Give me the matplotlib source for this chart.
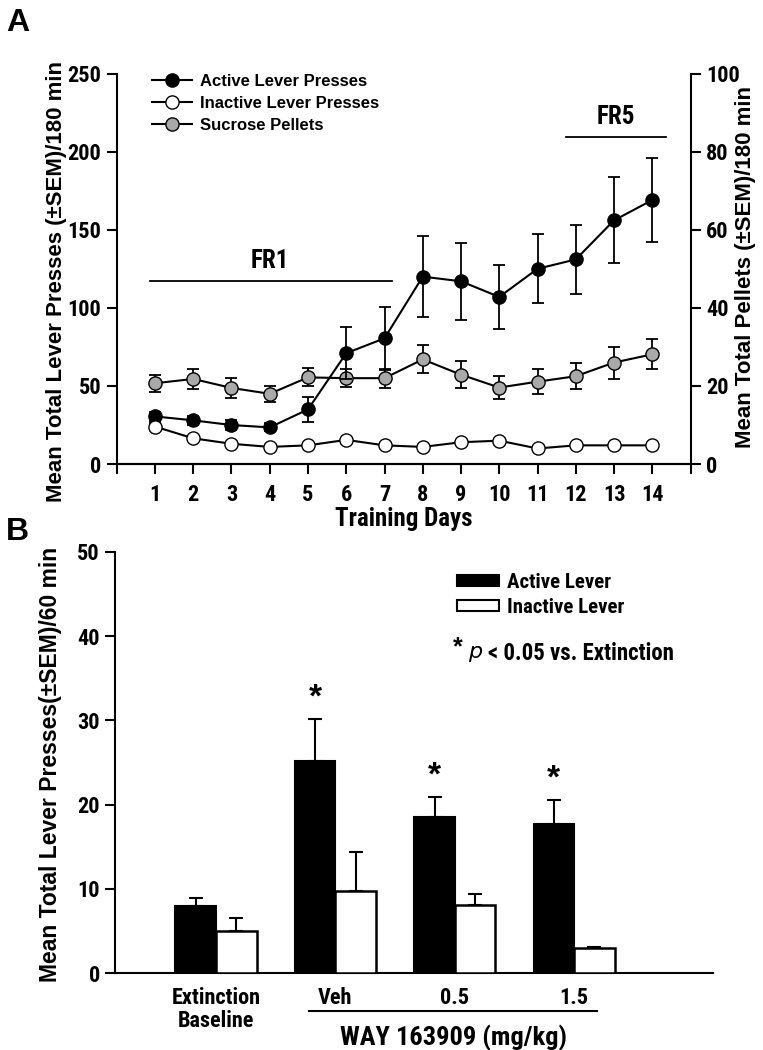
import matplotlib
matplotlib.use("Agg")
import matplotlib.pyplot as plt
import matplotlib.transforms as mtransforms
from matplotlib import font_manager as fm
from matplotlib.lines import Line2D
from matplotlib.patches import Patch
import numpy as np

plt.rcParams['font.family'] = ['Liberation Sans', 'DejaVu Sans']
WIDE = ['Liberation Sans', 'DejaVu Sans']

# pick a narrow bold face for the tick labels if one is installed
_fonts = fm.fontManager.ttflist
_names = {f.name for f in _fonts}
if 'Liberation Sans Narrow' in _names:
    NFONT = dict(family='Liberation Sans Narrow', fontstretch='normal')
elif 'Roboto Condensed' in _names:
    NFONT = dict(family='Roboto Condensed', fontstretch='normal')
elif any(f.name == 'DejaVu Sans' and f.stretch == 'condensed' for f in _fonts):
    NFONT = dict(family='DejaVu Sans', fontstretch='condensed')
else:
    NFONT = dict(family='Liberation Sans', fontstretch='normal')
NFONT['fontweight'] = 'bold'

# ---- panel A data ----
days = list(range(1, 15))
active = [30.5, 28, 25, 23.5, 35, 71, 80.5, 120, 117, 107, 125, 131, 156, 169]
active_sem = [3, 3, 3, 2.5, 8, 16.5, 20, 26, 24.5, 20.5, 22, 22, 27.5, 27]
inactive = [24, 16.5, 13, 11, 12, 15.5, 12, 11, 14, 15, 10, 12, 12, 12]
inactive_sem = [2, 1, 1, 1, 1, 1, 1, 1, 1, 1, 1, 1, 1, 1]
pellets = [20.7, 21.8, 19.5, 18, 22.2, 22, 22, 26.8, 22.9, 19.6, 21.1, 22.5, 26, 28.1]
pellets_sem = [2.2, 2.5, 2.5, 2.1, 2.3, 2.3, 2.4, 3.6, 3.4, 2.9, 3.2, 3.4, 4.1, 3.8]

phase_names = ['FR1', 'FR5']
phase_start = [0.88, 11.75]
phase_end = [7.2, 14.35]
phase_line_y = [117, 209.5]
phase_label_x = [4.0, 13.05]

# ---- panel B data ----
groups = ['Extinction\nBaseline', 'Veh', '0.5', '1.5']
active_b = [8.0, 25.2, 18.5, 17.7]
active_b_sem = [0.9, 5.0, 2.4, 2.9]
inactive_b = [5.0, 9.8, 8.1, 3.0]
inactive_b_sem = [1.5, 4.6, 1.3, 0.1]
signif = [False, True, True, True]

fig = plt.figure(figsize=(7.63, 10.5), dpi=100)

# ================= Panel A =================
axA = fig.add_axes([0.153, 0.558, 0.752, 0.372])
axR = axA.twinx()

lw = 1.5
ms = 9.5
cap = 4.5

axA.errorbar(days, active, yerr=active_sem, fmt='-o', color='black', mfc='black',
             mec='black', ms=ms, lw=lw, capsize=cap, elinewidth=1.3, capthick=1.3,
             zorder=5)
axA.errorbar(days, inactive, yerr=inactive_sem, fmt='-o', color='black', mfc='white',
             mec='black', ms=ms, lw=lw, capsize=cap, elinewidth=1.3, capthick=1.3,
             zorder=5)
axR.errorbar(days, pellets, yerr=pellets_sem, fmt='-o', color='black', mfc='#a9a9a9',
             mec='black', ms=ms, lw=lw, capsize=cap, elinewidth=1.3, capthick=1.3,
             zorder=4)

axA.set_xlim(0, 15)
axA.set_ylim(0, 250)
axR.set_ylim(0, 100)
axA.set_xticks(range(0, 16))
axA.set_xticklabels([''] + [str(d) for d in days] + [''], fontsize=16, **NFONT)
axA.set_yticks(range(0, 251, 50))
axA.set_yticklabels([str(v) for v in range(0, 251, 50)], fontsize=16, **NFONT)
axR.set_yticks(range(0, 101, 20))
axR.set_yticklabels([str(v) for v in range(0, 101, 20)], fontsize=16, **NFONT)

for ax in (axA, axR):
    ax.spines['top'].set_visible(False)
    for s in ('left', 'right', 'bottom'):
        ax.spines[s].set_linewidth(1.5)
    ax.tick_params(direction='out', length=7, width=1.5, pad=4)
axA.tick_params(axis='x', pad=7)
axR.spines['left'].set_visible(False)
axA.spines['right'].set_visible(False)

axA.set_xlabel('Training Days', fontsize=18, labelpad=1, **NFONT)
axA.set_ylabel('Mean Total Lever Presses (\u00b1SEM)/180 min', fontweight='bold',
               fontsize=16)
axA.yaxis.set_label_coords(-0.087, 0.467)
axR.set_ylabel('Mean Total Pellets (\u00b1SEM)/180 min', fontweight='bold',
               fontsize=16)
axR.yaxis.set_label_coords(1.078, 0.505)

for name, x0, x1, yl, xt in zip(phase_names, phase_start, phase_end, phase_line_y,
                                phase_label_x):
    axA.plot([x0, x1], [yl, yl], color='black', lw=1.3, clip_on=False)
    axA.text(xt, yl + 5, name, fontsize=18, ha='center', va='bottom', **NFONT)

handlesA = [
    Line2D([], [], color='black', lw=lw, marker='o', mfc='black', mec='black', ms=ms),
    Line2D([], [], color='black', lw=lw, marker='o', mfc='white', mec='black', ms=ms),
    Line2D([], [], color='black', lw=lw, marker='o', mfc='#a9a9a9', mec='black', ms=ms),
]
legA = axA.legend(handlesA, ['Active Lever Presses', 'Inactive Lever Presses',
                             'Sucrose Pellets'],
                  loc='upper left', bbox_to_anchor=(0.05, 1.015), frameon=False,
                  handlelength=2.4, handletextpad=0.45, labelspacing=0.42,
                  borderaxespad=0.0, prop={'family': WIDE, 'weight': 'bold',
                                           'size': 12})
axA.set_zorder(axR.get_zorder() + 1)
axA.patch.set_visible(False)

fig.text(0.008, 0.992, 'A', fontsize=23, fontweight='bold', va='top', ha='left')

# ================= Panel B =================
axB = fig.add_axes([0.151, 0.0733, 0.783, 0.401])
x = np.arange(len(groups))
bw = 0.34
axB.bar(x - bw / 2, active_b, width=bw, color='black', edgecolor='black',
        linewidth=1.5, yerr=[np.zeros(len(x)), active_b_sem],
        error_kw=dict(ecolor='black', elinewidth=1.5, capsize=5, capthick=1.5),
        label='Active Lever', zorder=3)
axB.bar(x + bw / 2, inactive_b, width=bw, color='white', edgecolor='black',
        linewidth=1.8, yerr=[np.zeros(len(x)), inactive_b_sem],
        error_kw=dict(ecolor='black', elinewidth=1.5, capsize=5, capthick=1.5),
        label='Inactive Lever', zorder=3)

for xi, a, s, sig in zip(x, active_b, active_b_sem, signif):
    if sig:
        axB.text(xi - bw / 2, a + s + 0.6, '*', fontsize=24, fontweight='bold',
                 ha='center', va='bottom')

axB.set_xlim(-0.845, 4.16)
axB.set_ylim(0, 50)
axB.set_yticks(range(0, 51, 10))
axB.set_yticklabels([str(v) for v in range(0, 51, 10)], fontsize=16, **NFONT)
axB.set_xticks(x)
axB.set_xticklabels(groups, fontsize=16, va='top', linespacing=1.05, **NFONT)
axB.tick_params(axis='x', length=0, pad=10)
axB.tick_params(axis='y', direction='out', length=7, width=1.5, pad=4)
axB.spines['top'].set_visible(False)
axB.spines['right'].set_visible(False)
axB.spines['left'].set_linewidth(1.5)
axB.spines['bottom'].set_linewidth(1.5)
axB.set_ylabel('Mean Total Lever Presses(\u00b1SEM)/60 min', fontweight='bold',
               fontsize=16.5)
axB.yaxis.set_label_coords(-0.089, 0.495)

trans = mtransforms.blended_transform_factory(axB.transData, axB.transAxes)
axB.plot([0.78, 3.19], [-0.09, -0.09], color='black', lw=1.5, transform=trans,
         clip_on=False)
axB.text(1.99, -0.155, 'WAY 163909 (mg/kg)', transform=trans, ha='center',
         va='center', fontsize=19, **NFONT)

handlesB = [Patch(facecolor='black', edgecolor='black', lw=1.5),
            Patch(facecolor='white', edgecolor='black', lw=1.5)]
axB.legend(handlesB, ['Active Lever', 'Inactive Lever'], loc='upper left',
           bbox_to_anchor=(0.558, 0.97), frameon=False, handlelength=2.0,
           handleheight=0.45, handletextpad=0.4, labelspacing=0.3,
           borderaxespad=0.0,
           prop={'family': NFONT['family'], 'stretch': NFONT['fontstretch'],
                 'weight': 'bold', 'size': 15})
axB.text(0.565, 0.745, '*', transform=axB.transAxes, fontsize=18,
         fontweight='bold', ha='left', va='bottom')
axB.text(0.59, 0.758, r'$\mathit{p}$', transform=axB.transAxes, fontsize=16,
         ha='left', va='center')
axB.text(0.624, 0.76, '< 0.05 vs. Extinction', transform=axB.transAxes,
         fontsize=16.5, ha='left', va='center', **NFONT)

fig.text(0.008, 0.493, 'B', fontsize=23, fontweight='bold', va='center',
         ha='left')

fig.savefig('out.png', dpi=100)
